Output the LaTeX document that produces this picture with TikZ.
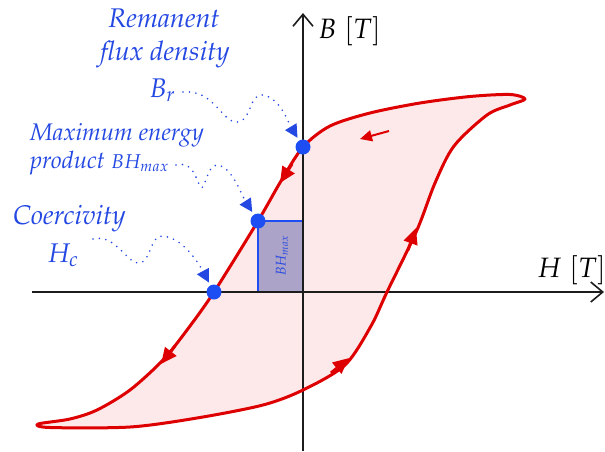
\documentclass[tikz,border=0pt]{standalone}
\usepackage[T1]{fontenc}
\usepackage{mathpazo}
\usetikzlibrary{arrows.meta}
\definecolor{hred}{RGB}{222,0,0}
\definecolor{hfill}{RGB}{253,233,233}
\definecolor{lblue}{RGB}{36,72,226}
\definecolor{pblue}{RGB}{28,78,244}
\definecolor{rectfill}{RGB}{172,163,200}
\definecolor{axisgray}{RGB}{28,28,28}
\tikzset{
  axisline/.style={axisgray, line width=1.6pt, -{Straight Barb[length=12pt,width=20pt,line width=1.6pt]}},
  loopline/.style={hred, line width=3pt, line join=round},
  looparrow/.style={hred, line width=3pt, -{Triangle[length=16pt,width=14pt]}},
  smallarrow/.style={hred, line width=2pt, -{Triangle[length=12pt,width=11pt]}},
  pt/.style={circle, fill=pblue, inner sep=0pt, minimum size=15pt},
  dotarrow/.style={lblue, line width=1.8pt, line cap=round, dash pattern=on 0pt off 6.5pt,
     -{Triangle[length=13pt,width=13pt,line cap=butt]}, shorten >=3pt},
  lbl/.style={lblue, inner sep=0pt, font=\itshape},
  axlbl/.style={black, inner sep=0pt},
  loopcurve/.style={smooth cycle, tension=0.5},
}
\def\looppts{(525,99) (510,94.5) (470,96.5) (420,103) (370,113) (330,126) (303,147) (281,181) (258,221)
 (214,292) (187,330) (163,360) (130,390) (97,410) (70,419) (38,424) (50,427.5) (130,427) (197,418)
 (263,405) (303,390) (345,365) (371,326) (387,292) (417,230) (435,183) (454,146) (487,115) (510,105)}
\begin{document}
\begin{tikzpicture}[x=1pt,y=-1pt]
\useasboundingbox (0,0) rectangle (605,451);
% loop fill
\fill[hfill] plot[loopcurve] coordinates {\looppts};
% BH max rectangle
\draw[fill=rectfill, draw=pblue, line width=1.5pt] (258,221) rectangle (302.5,291.5);
\node[lblue, rotate=90, inner sep=0pt] (bhrect) at (282,256) {\fontsize{14}{16}\selectfont $BH_{max}$};
% axes
\coordinate (hstart) at (32,292);
\coordinate (hend) at (604,292);
\coordinate (vstart) at (303,451);
\coordinate (vend) at (303,13);
\draw[axisline] (hstart) -- (hend);
\draw[axisline] (vstart) -- (vend);
\node[axlbl, anchor=base west] (Blab) at (318,38) {\fontsize{28}{33}\selectfont $B\;[T]$};
\node[axlbl, anchor=base west] (Hlab) at (537,277) {\fontsize{28}{33}\selectfont $H\;[T]$};
% loop stroke
\draw[loopline] plot[loopcurve] coordinates {\looppts};
% direction arrows
\coordinate (a1s) at (292,164); \coordinate (a1e) at (280,183);
\coordinate (a2s) at (175,346); \coordinate (a2e) at (161,364);
\coordinate (a3s) at (331,373); \coordinate (a3e) at (349,358);
\coordinate (a4s) at (408,250); \coordinate (a4e) at (416,228);
\coordinate (a5s) at (389,131); \coordinate (a5e) at (360,139);
\draw[looparrow] (a1s) -- (a1e);
\draw[looparrow] (a2s) -- (a2e);
\draw[looparrow] (a3s) -- (a3e);
\draw[looparrow] (a4s) -- (a4e);
\draw[smallarrow] (a5s) -- (a5e);
% points
\node[pt] (Br) at (303,147) {};
\node[pt] (BH) at (258,221) {};
\node[pt] (Hc) at (214,292) {};
% labels
\node[lbl, anchor=base] (rem) at (164,27) {\fontsize{27}{32}\selectfont Remanent};
\node[lbl, anchor=base] (flux) at (165,60) {\fontsize{27}{32}\selectfont flux density};
\node[lbl, anchor=base west] (brl) at (149,97) {\fontsize{27}{32}\selectfont $B_r$};
\node[lbl, anchor=base west] (maxe) at (30,140) {\fontsize{24}{29}\selectfont Maximum energy};
\node[lbl, anchor=base west] (prod) at (30,168) {\fontsize{24}{29}\selectfont product \fontsize{20}{24}\selectfont $BH_{max}$};
\node[lbl, anchor=base west] (coer) at (13,224) {\fontsize{27}{32}\selectfont Coercivity};
\node[lbl, anchor=base west] (hcl) at (47,262) {\fontsize{27}{32}\selectfont $H_c$};
% dotted pointers
\coordinate (d1) at (183,92);
\coordinate (d2) at (176,165);
\coordinate (d3) at (93,239);
\draw[dotarrow] (d1) .. controls (215,89) and (222,124) .. (238,122)
   .. controls (252,120) and (249,93) .. (263,95)
   .. controls (280,98) and (288,122) .. (Br);
\draw[dotarrow] (d2) .. controls (192,161) and (195,176) .. (200,186)
   .. controls (205,195) and (206,165) .. (217,165)
   .. controls (232,166) and (242,196) .. (BH);
\draw[dotarrow] (d3) .. controls (116,233) and (128,266) .. (140,263)
   .. controls (151,261) and (150,236) .. (162,236)
   .. controls (182,237) and (198,262) .. (Hc);
\end{tikzpicture}
\end{document}
